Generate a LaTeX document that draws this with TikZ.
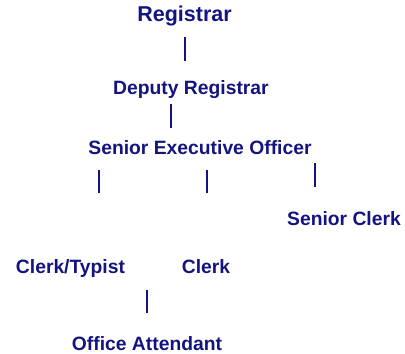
\documentclass[tikz,border=0pt]{standalone}
\usepackage{fontspec}
\setmainfont{Liberation Sans}
\usepackage{xcolor}
\definecolor{regNavy}{HTML}{141480}

\tikzset{
    post/.style={text=regNavy, inner sep=0, anchor=base, font=\fontsize{19.3}{23}\selectfont\bfseries},
    head/.style={post, font=\fontsize{21.5}{25}\selectfont\bfseries},
    bar/.style={draw=regNavy, line width=1.8}
}

\begin{document}
\begin{tikzpicture}[x=1pt, y=-1pt]
                        \useasboundingbox (0,0) rectangle (405,354);

                        \node[head] (reg) at (184.5,21.5) {Registrar};
                        \node[post] (dep) at (191,94) {Deputy Registrar};
                        \node[post] (seo) at (200,154) {Senior Executive Officer};
                        \node[post] (sclerk) at (344,225) {Senior Clerk};
                        \node[post] (typist) at (70.5,273) {Clerk/Typist};
                        \node[post] (clerk) at (206,273) {Clerk};
                        \node[post] (attend) at (147,350) {Office Attendant};

                        % bars between the posts
                        \coordinate (b1a) at (185,36.7);   \coordinate (b1b) at (185,60.7);
                        \coordinate (b2a) at (171,104);    \coordinate (b2b) at (171,127.7);
                        \coordinate (b3a) at (99,170);     \coordinate (b3b) at (99,193.3);
                        \coordinate (b4a) at (207.3,170);  \coordinate (b4b) at (207.3,193.3);
                        \coordinate (b5a) at (315,163.3);  \coordinate (b5b) at (315,187.3);
                        \coordinate (b6a) at (147,290);    \coordinate (b6b) at (147,313.3);

                        \path[bar]
                            (b1a) edge (b1b)
                            (b2a) edge (b2b)
                            (b3a) edge (b3b)
                            (b4a) edge (b4b)
                            (b5a) edge (b5b)
                            (b6a) edge (b6b)
                        ;
                    \end{tikzpicture}
\end{document}
